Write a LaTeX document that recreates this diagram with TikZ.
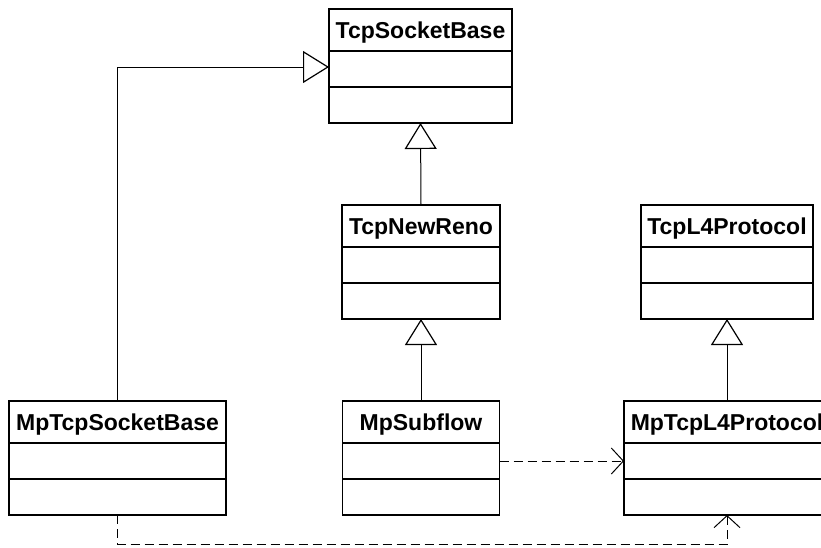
\documentclass[tikz,border=0pt]{standalone}
\usepackage{fontspec}
\setmainfont{Liberation Sans}
\usetikzlibrary{positioning,arrows.meta}

\begin{document}
\begin{tikzpicture}[x=1pt,y=-1pt,
    head/.style={draw,line width=1.5pt,minimum height=42pt,inner sep=0pt,outer sep=0pt,
        font=\fontsize{23}{27}\selectfont\bfseries,text height=16.5pt,text depth=0pt},
    part/.style={draw,line width=1.5pt,minimum height=36pt,inner sep=0pt,outer sep=0pt},
    inherit/.style={line width=1pt,-{Triangle[open,length=26pt,width=32pt,line width=1.2pt]}},
    uses/.style={line width=1pt,dash pattern=on 9pt off 5pt,-{Straight Barb[length=12pt,width=26pt]}}]
\useasboundingbox (0,0) rectangle (821,547);
    % class boxes: name / label / centre of the header / width
    \foreach \cls/\txt/\cx/\cy/\w in {tsb/TcpSocketBase/420.5/30/183,
            tnr/TcpNewReno/421/226/158,
            tl4/TcpL4Protocol/727/226/172,
            mtsb/MpTcpSocketBase/117.5/422/217,
            msf/MpSubflow/421/422/157,
            ml4/MpTcpL4Protocol/727/422/206} {
        \node[head,minimum width=\w pt] (\cls) at (\cx,\cy) {\txt};
        \node[part,minimum width=\w pt,below=0pt of \cls] (\cls-a) {};
        \node[part,minimum width=\w pt,below=0pt of \cls-a] (\cls-o) {};
    }
    % generalisations
    \draw[inherit] (mtsb.north) |- ([yshift=2pt]tsb-a.west);
    \draw[inherit] (tnr.north) -- (tsb-o.south);
    \draw[inherit] (msf.north) -- (tnr-o.south);
    \draw[inherit] (ml4.north) -- (tl4-o.south);
    % dependencies
    \draw[uses] (msf-a.east) -- (ml4-a.west);
    \coordinate (turn) at (117.5,544);
    \draw[uses] (mtsb-o.south) -- (turn) -| (ml4-o.south);
\end{tikzpicture}
\end{document}
